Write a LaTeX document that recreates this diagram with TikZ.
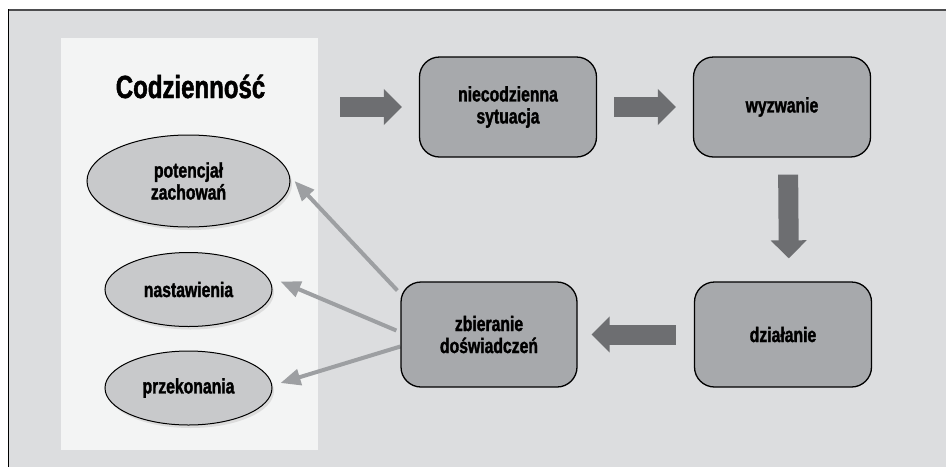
\documentclass[tikz,border=0pt]{standalone}
\usepackage{fontspec}
\setmainfont[FakeStretch=0.75, BoldFeatures={FakeBold=1.5}]{Liberation Sans}
\usepackage{xcolor}
\usepackage{tikz}
\usetikzlibrary{shapes, arrows.meta, shadows}
\usetikzlibrary{positioning}

\definecolor{tlo}{HTML}{DCDDDF}
\definecolor{panel}{HTML}{F3F4F4}
\definecolor{pudlo}{HTML}{A7A9AC}
\definecolor{owalfill}{HTML}{C8C9CB}
\definecolor{ciemny}{HTML}{6D6E71}
\definecolor{jasny}{HTML}{9D9FA2}
\definecolor{rama}{HTML}{4D4D4F}

\pgfdeclarelayer{background}
\pgfsetlayers{background,main}

\tikzset{
  etap/.style={draw, line width=1.3pt, rounded corners=20pt, fill=pudlo,
    minimum width=177pt, minimum height=100pt, align=center,
    font=\fontsize{21}{22}\selectfont\bfseries},
  owal/.style={draw, ellipse, line width=1pt, fill=owalfill, inner sep=0pt,
    drop shadow={opacity=0.2, shadow xshift=2pt, shadow yshift=-3pt},
    align=center, font=\fontsize{21}{22}\selectfont\bfseries},
  gruba/.style={draw=ciemny, line width=20pt, -{Triangle[length=18pt, width=35pt]}},
  cienka/.style={draw=jasny, line width=4pt, -{Triangle[length=20pt, width=16pt]}}
}

\begin{document}
\begin{tikzpicture}[x=1pt, y=-1pt]
\useasboundingbox (0,0) rectangle (946,467);

\node[font=\fontsize{32}{34}\selectfont\bfseries, anchor=base] (tytul) at (190.5,98) {Codzienność};

\node[etap] (nie) at (508,107) {niecodzienna\\sytuacja};
\node[etap] (wyz) at (782,107) {wyzwanie};
\node[etap, minimum height=105pt] (dzi) at (783,334.5) {działanie};
\node[etap, minimum height=105pt, minimum width=176pt] (zb) at (489,334.5) {zbieranie\\doświadczeń};

\node[owal, minimum width=203pt, minimum height=92pt] (pot) at (188.5,181) {potencjał\\zachowań};
\node[owal, minimum width=167pt, minimum height=74pt] (nast) at (188.5,289.5) {nastawienia};
\node[owal, minimum width=167pt, minimum height=74pt] (prz) at (188.5,388) {przekonania};

\coordinate (start) at (340,107);
\draw[gruba, shorten >=17pt] (start) -- (nie.west);
\draw[gruba, shorten <=17pt, shorten >=17pt] (nie) -- (wyz);
\draw[gruba, shorten <=17pt, shorten >=23pt] ([xshift=6pt]wyz.south) -- ([xshift=6pt]dzi.north);
\draw[gruba, shorten <=18pt, shorten >=14pt] (dzi) -- (zb);

\begin{pgfonlayer}{background}
\fill[white] (0,0) rectangle (946,467);
\fill[tlo] (8,10) rectangle (946,467);
\fill[panel] (61,38) rectangle (318,450);
\draw[rama, line width=2pt] (946,10) -- (8,10);
\draw[black, line width=1pt] (8,9) -- (8,467);
\draw[cienka] ([xshift=-3pt, yshift=44pt]zb.west) -- ([xshift=4pt]pot.east);
\draw[cienka] ([xshift=-4pt, yshift=4pt]zb.west) -- ([xshift=8pt, yshift=8pt]nast.east);
\draw[cienka] ([yshift=-12pt]zb.west) -- ([xshift=8pt, yshift=5pt]prz.east);
\end{pgfonlayer}

\end{tikzpicture}
\end{document}
